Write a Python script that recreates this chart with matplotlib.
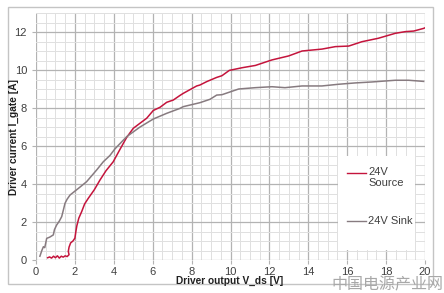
import matplotlib
matplotlib.use("Agg")
import matplotlib.pyplot as plt
from matplotlib.patches import Rectangle
from matplotlib.ticker import MultipleLocator

# ---- data ----
source_x = [0.6, 0.7, 0.8, 0.9, 1.0, 1.1, 1.2, 1.3, 1.4, 1.5, 1.6, 1.7, 1.66, 1.7, 1.78, 1.9,
            2.0, 2.05, 2.1, 2.2, 2.35, 2.5, 2.69, 3.0, 3.29, 3.6, 3.97, 4.3, 4.66, 5.0, 5.35,
            5.69, 6.03, 6.38, 6.72, 7.06, 7.4, 7.57, 8.26, 8.43, 8.78, 9.29, 9.56, 9.94, 10.6,
            11.28, 12.13, 12.99, 13.68, 14.7, 15.39, 16.08, 16.76, 17.6, 18.47, 18.99, 19.42,
            19.93, 20.0]
source_y = [0.12, 0.16, 0.10, 0.20, 0.12, 0.22, 0.10, 0.20, 0.15, 0.22, 0.18, 0.28, 0.45, 0.68,
            0.90, 1.00, 1.15, 1.50, 1.80, 2.20, 2.55, 2.95, 3.25, 3.70, 4.21, 4.70, 5.17, 5.79,
            6.45, 6.93, 7.20, 7.46, 7.87, 8.04, 8.30, 8.42, 8.66, 8.77, 9.16, 9.21, 9.39, 9.61,
            9.70, 9.98, 10.12, 10.24, 10.53, 10.74, 11.00, 11.10, 11.23, 11.26, 11.49, 11.67,
            11.93, 12.02, 12.05, 12.19, 12.22]

sink_x = [0.2, 0.3, 0.38, 0.45, 0.55, 0.7, 0.89, 0.95, 1.06, 1.2, 1.32, 1.4, 1.49, 1.6, 1.75,
          2.18, 2.6, 3.12, 3.46, 3.8, 4.06, 4.66, 5.35, 6.03, 6.72, 7.4, 7.57, 8.43, 8.95, 9.29,
          9.56, 10.42, 11.28, 12.13, 12.8, 13.68, 14.7, 15.56, 16.42, 17.27, 18.47, 19.16, 19.93]
sink_y = [0.20, 0.50, 0.70, 0.65, 1.14, 1.20, 1.32, 1.60, 1.84, 2.05, 2.28, 2.60, 2.98, 3.20,
          3.42, 3.77, 4.12, 4.74, 5.17, 5.50, 5.85, 6.49, 7.00, 7.42, 7.72, 7.98, 8.07, 8.28,
          8.46, 8.68, 8.70, 9.00, 9.07, 9.12, 9.07, 9.16, 9.16, 9.25, 9.32, 9.37, 9.46, 9.46,
          9.40]

series_labels = ["24V\nSource", "24V Sink"]
x_label = "Driver output V_ds [V]"
y_label = "Driver current I_gate [A]"
watermark = "中国电源产业网"

RED = "#c4143c"
GRAY = "#877b80"

plt.rcParams["font.family"] = ["Liberation Sans", "DejaVu Sans"]

W, H = 444, 293
fig = plt.figure(figsize=(W / 100, H / 100), dpi=100)
ax = fig.add_axes([36 / W, 1 - 260 / H, 389 / W, 247 / H])

ax.set_xlim(0, 20)
ax.set_ylim(0, 13)
ax.xaxis.set_major_locator(MultipleLocator(2))
ax.yaxis.set_major_locator(MultipleLocator(2))
ax.xaxis.set_minor_locator(MultipleLocator(0.5))
ax.yaxis.set_minor_locator(MultipleLocator(0.5))
ax.grid(which="major", color="#b3b3b3", lw=0.9)
ax.grid(which="minor", color="#e0e0e0", lw=0.7)
ax.set_axisbelow(True)
for s in ax.spines.values():
    s.set_visible(False)
ax.tick_params(which="major", length=3, width=0.8, color="#b3b3b3",
               labelsize=8, labelcolor="#404040")
ax.tick_params(axis="y", pad=3.5)
ax.tick_params(axis="x", pad=2.0)
ax.tick_params(which="minor", length=0)

ax.plot(source_x, source_y, color=RED, lw=1.1, zorder=3)
ax.plot(sink_x, sink_y, color=GRAY, lw=1.1, zorder=3)

# legend (white box with two entries)
ax.add_patch(Rectangle((15.53, 0.53), 3.94, 4.94, facecolor="white", edgecolor="none", zorder=2.5))
ax.plot([15.99, 16.97], [4.58, 4.58], color=RED, lw=1.0, zorder=3)
ax.plot([15.99, 16.97], [2.07, 2.07], color=GRAY, lw=1.0, zorder=3)
ax.text(17.07, 4.91, series_labels[0], fontsize=8, color="#404040", va="top",
        ha="left", linespacing=1.1, zorder=4)
ax.text(17.07, 2.07, series_labels[1], fontsize=8, color="#404040", va="center",
        ha="left", zorder=4)

fig.text(230 / W, 1 - 281 / H, x_label, fontsize=7.3, fontweight="bold",
         ha="center", va="center", color="#202020")
fig.text(14 / W, 1 - 137 / H, y_label, fontsize=7.3, fontweight="bold",
         ha="center", va="center", rotation=90, color="#202020")
fig.text(443 / W, 1 - 285 / H, watermark, fontsize=11.5, color="#a8a8a8",
         family=["Noto Sans CJK SC", "DejaVu Sans"], fontweight="light",
         ha="right", va="center")

fig.add_artist(Rectangle((8 / W, 1 - 284 / H), 425 / W, 277 / H, transform=fig.transFigure,
                         facecolor="none", edgecolor="#c4c4c4", lw=1.0))

fig.savefig("out.png", dpi=100)
